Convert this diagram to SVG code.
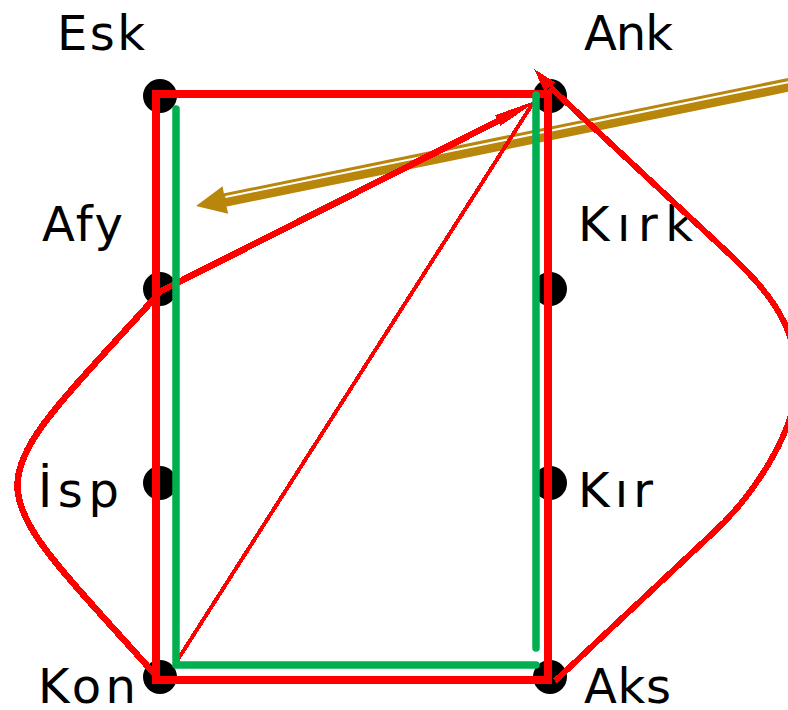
<svg xmlns="http://www.w3.org/2000/svg" width="788" height="710" viewBox="0 0 788 710">
<style>
.dot{fill:#000}
.lbl{font-family:"DejaVu Sans","Liberation Sans",sans-serif;font-size:48px;fill:#000}
.red{fill:none;stroke:#f00;shape-rendering:crispEdges;stroke-linejoin:miter}
.redfill{fill:#f00;shape-rendering:crispEdges}
.grn{fill:none;stroke:#00b050;stroke-width:7.5;stroke-linecap:round;stroke-linejoin:round}
.brn{fill:none;stroke:#b8860b;stroke-width:13.5}
.brnw{fill:none;stroke:#fff;stroke-width:2}
</style>
<rect width="788" height="710" fill="#fff"/>
<g id="node-esk"><circle class="dot" cx="160" cy="96" r="17"/><text class="lbl" x="57" y="50" textLength="88" lengthAdjust="spacing">Esk</text></g>
<g id="node-ank"><circle class="dot" cx="550" cy="96" r="17"/><text class="lbl" x="584" y="50" textLength="89" lengthAdjust="spacing">Ank</text></g>
<g id="node-afy"><circle class="dot" cx="160" cy="289" r="17"/><text class="lbl" x="42" y="241" textLength="81" lengthAdjust="spacing">Afy</text></g>
<g id="node-kirk"><circle class="dot" cx="550" cy="289" r="17"/><text class="lbl" x="578" y="241" textLength="115" lengthAdjust="spacing">Kırk</text></g>
<g id="node-isp"><circle class="dot" cx="160" cy="483" r="17"/><text class="lbl" x="38" y="507" textLength="81" lengthAdjust="spacing">İsp</text></g>
<g id="node-kir"><circle class="dot" cx="550" cy="483" r="17"/><text class="lbl" x="578" y="507" textLength="75" lengthAdjust="spacing">Kır</text></g>
<g id="node-kon"><circle class="dot" cx="160" cy="677" r="17"/><text class="lbl" x="38" y="703" textLength="98" lengthAdjust="spacing">Kon</text></g>
<g id="node-aks"><circle class="dot" cx="550" cy="677" r="17"/><text class="lbl" x="584" y="703" textLength="87" lengthAdjust="spacing">Aks</text></g>
<g id="connectors">
  <path class="brn" d="M800,82.5 L222,200.6"/>
  <path class="brnw" d="M800,79.7 L225.4,197.1"/>
  <polygon fill="#b8860b" points="196,206 222.6,186.3 225,200 228.2,213.7"/>
  <rect class="red" x="156" y="94" width="392" height="586" stroke-width="7.5"/>
  <path class="red" stroke-width="4" d="M175,664 L533,103"/>
  <path class="red" stroke-width="6.5" d="M159,679 C-30,467 -30,503 161,291 L500,120"/>
  <polygon class="redfill" points="538,100 500.6,125.8 497,119 495.2,115.2"/>
  <path class="red" stroke-width="6" d="M555,681 L713,533 C752,497 797,432 797,378 C797,322 762,284 725,250 L550,87"/>
  <polygon class="redfill" points="534,69 555.1,82.4 544.6,91.6"/>
  <path class="grn" d="M176,109 L176,665 L536,665"/>
  <path class="grn" d="M536,95 L536,648"/>
</g>
</svg>
